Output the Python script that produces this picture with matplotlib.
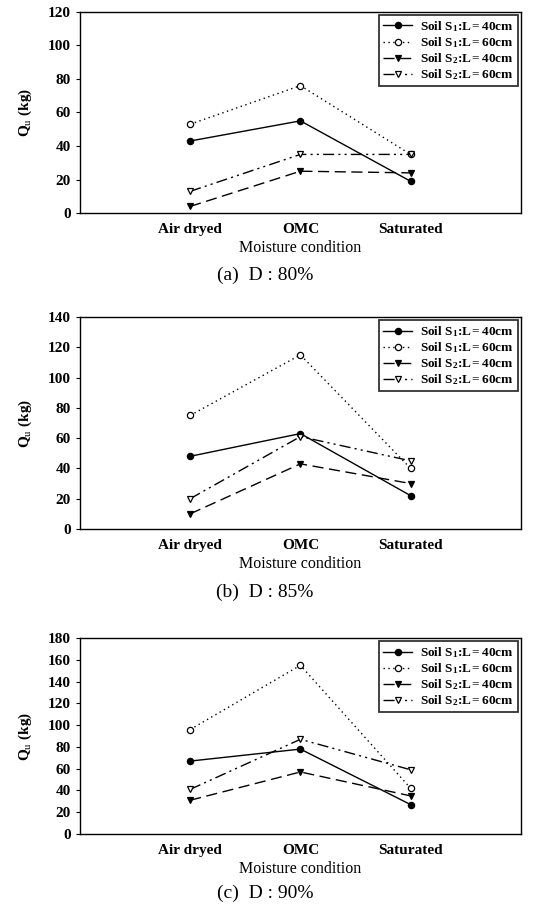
import matplotlib
matplotlib.use("Agg")
import matplotlib.pyplot as plt

categories = ["Air dryed", "OMC", "Saturated"]
series_labels = [r"Soil S$_\mathbf{1}$:L$=$40cm", r"Soil S$_\mathbf{1}$:L$=$60cm",
                 r"Soil S$_\mathbf{2}$:L$=$40cm", r"Soil S$_\mathbf{2}$:L$=$60cm"]

# panel (a) D:80%
a_s1_40 = [43, 55, 19]
a_s1_60 = [53, 76, 35]
a_s2_40 = [4, 25, 24]
a_s2_60 = [13, 35, 35]
# panel (b) D:85%
b_s1_40 = [48, 63, 22]
b_s1_60 = [75, 115, 40]
b_s2_40 = [10, 43, 30]
b_s2_60 = [20, 61, 45]
# panel (c) D:90%
c_s1_40 = [67, 78, 27]
c_s1_60 = [96, 155, 42]
c_s2_40 = [31, 57, 35]
c_s2_60 = [41, 87, 59]

panels = [
    ("(a)  D : 80%", [a_s1_40, a_s1_60, a_s2_40, a_s2_60], 120, 20),
    ("(b)  D : 85%", [b_s1_40, b_s1_60, b_s2_40, b_s2_60], 140, 20),
    ("(c)  D : 90%", [c_s1_40, c_s1_60, c_s2_40, c_s2_60], 180, 20),
]

plt.rcParams['font.family'] = ['Liberation Serif', 'DejaVu Serif']
plt.rcParams['mathtext.fontset'] = 'custom'
plt.rcParams['mathtext.rm'] = 'Liberation Serif'
plt.rcParams['mathtext.bf'] = 'Liberation Serif:bold'
plt.rcParams['mathtext.it'] = 'Liberation Serif:italic'

fig = plt.figure(figsize=(5.35, 9.07), dpi=100)

rects = [
    (0.1495, 0.765, 0.824, 0.222),
    (0.1495, 0.4168, 0.824, 0.2337),
    (0.1495, 0.0805, 0.824, 0.216),
]
caption_y = [0.687, 0.337, 0.005]

styles = [
    dict(linestyle='-', marker='o', mfc='black', mec='black'),
    dict(linestyle=(0, (1, 2.5)), marker='o', mfc='white', mec='black'),
    dict(linestyle=(0, (8, 4)), marker='v', mfc='black', mec='black'),
    dict(linestyle=(0, (8, 3, 1.5, 3, 1.5, 3)), marker='v', mfc='white', mec='black'),
]

xpos = [1, 2, 3]
for (cap, data, ymax, ystep), rect, cy in zip(panels, rects, caption_y):
    ax = fig.add_axes(rect)
    for vals, st, lab in zip(data, styles, series_labels):
        ax.plot(xpos, vals, color='black', lw=1.0, markersize=4.5,
                mew=0.9, label=lab, **st)
    ax.set_xlim(0, 4)
    ax.set_ylim(0, ymax)
    ax.set_yticks(range(0, ymax + 1, ystep))
    ax.set_xticks(xpos)
    ax.set_xticklabels(categories, fontsize=11, fontweight='bold')
    for t in ax.get_yticklabels():
        t.set_fontweight('bold')
    ax.tick_params(axis='y', labelsize=11, direction='out', length=3, width=0.8)
    ax.tick_params(axis='x', direction='out', length=0, pad=7)
    for sp in ax.spines.values():
        sp.set_linewidth(1.0)
    ax.set_xlabel("Moisture condition", fontsize=11.5, labelpad=3)
    ax.set_ylabel(r"Q$_\mathrm{u}$ (kg)", fontsize=11, labelpad=10, fontweight='bold')
    leg = ax.legend(loc='upper right', prop={'size': 9.5, 'weight': 'bold'},
                    frameon=True, fancybox=False,
                    edgecolor='black', handlelength=2.2, handletextpad=0.6,
                    borderpad=0.3, labelspacing=0.1, borderaxespad=0.25)
    leg.get_frame().set_linewidth(1.3)
    fig.text(0.495, cy, cap, ha='center', va='bottom', fontsize=14)

fig.savefig("out.png", dpi=100)
